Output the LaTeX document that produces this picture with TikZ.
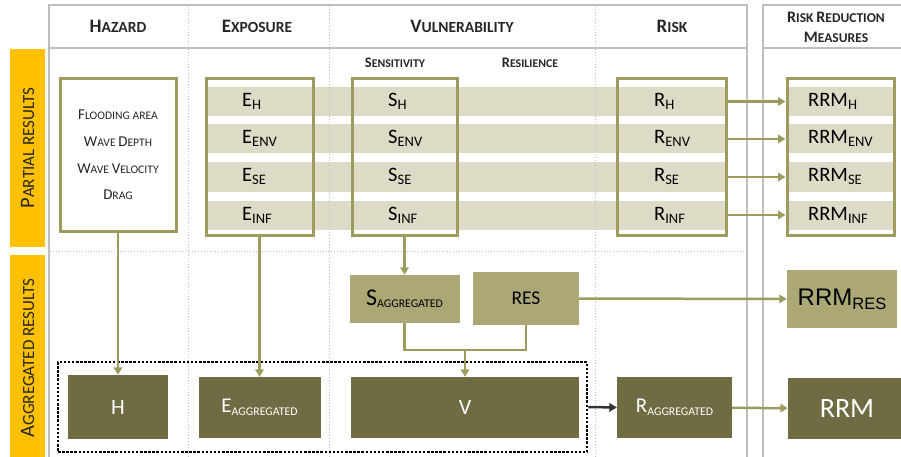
\documentclass[tikz,border=0pt]{standalone}
\usepackage{fontspec}
\setmainfont{Carlito}
\newfontfamily\arialfont{Liberation Sans}
\usetikzlibrary{arrows.meta}

\definecolor{bandcol}{HTML}{DDDBC6}
\definecolor{olivecol}{HTML}{9E9B5E}
\definecolor{lightcol}{HTML}{ABA876}
\definecolor{darkcol}{HTML}{6F6B42}
\definecolor{barcol}{HTML}{FFC000}
\definecolor{framecol}{HTML}{BFBFBF}
\definecolor{textcol}{HTML}{262626}

% fake small caps: big size, small size, first letter, rest
\newcommand{\fsc}[4]{{\fontsize{#1}{#1}\selectfont #3\fontsize{#2}{#2}\selectfont #4}}
\newcommand{\lsub}[1]{\raisebox{-3pt}{\fontsize{14.5}{15}\selectfont #1}}
\newcommand{\aggsub}[1]{\raisebox{-#1}{\fontsize{11.8}{12}\selectfont AGGREGATED}}

\tikzset{
  frameline/.style={draw=framecol, line width=1.5pt},
  sepline/.style={draw=framecol, line width=0.9pt, dotted},
  resbar/.style={fill=barcol, rotate=90, minimum height=35pt, inner sep=0pt, text=textcol},
  headtext/.style={text=textcol, font=\bfseries, inner sep=0pt},
  outbox/.style={draw=olivecol, line width=3pt, minimum height=156pt, inner sep=0pt},
  lbl/.style={anchor=base west, inner sep=0pt, text=black, font=\fontsize{20.5}{22}\selectfont},
  darkbox/.style={fill=darkcol, text=white, minimum height=61pt, inner sep=0pt},
  lightbox/.style={fill=lightcol, text=black, inner sep=0pt},
  conn/.style={draw=olivecol, line width=2.5pt},
  arr/.style={conn, -{Triangle[length=7.5pt,width=8.5pt]}},
  aggframe/.style={draw=black, line width=2.5pt, dash pattern=on 2.5pt off 1.6pt,
    minimum width=529pt, minimum height=90pt, inner sep=0pt},
}

\begin{document}
\begin{tikzpicture}[x=1pt, y=-1pt]
        \clip (0,0) rectangle (901,457);

        % Draw the light bands behind the partial results
        \foreach \i/\y in {1/101.5, 2/139, 3/177, 4/215} {
            \fill[bandcol] (207,\y-14.5) rectangle (726,\y+14.5);
            \fill[bandcol] (787,\y-14.5) rectangle (894,\y+14.5);
            \coordinate (row\i) at (0,\y);
        }

        % Draw the frames and the column separators
        \draw[frameline] (49,460) -- (49,5) -- (747,5) -- (747,460);
        \draw[frameline] (49,48) -- (747,48);
        \draw[frameline] (763,460) -- (763,5) -- (905,5);
        \draw[frameline] (763,48) -- (905,48);
        \foreach \x in {188, 329, 595}
            \draw[sepline] (\x,6) -- (\x,457);
        \draw[sepline] (50,251) -- (746,251);

        % Column headers
        \node[headtext] (hhaz)  at (118,26) {\fsc{19}{15.5}{H}{AZARD}};
        \node[headtext] (hexp)  at (257,26) {\fsc{19}{15.5}{E}{XPOSURE}};
        \node[headtext] (hvul)  at (462,26) {\fsc{19}{15.5}{V}{ULNERABILITY}};
        \node[headtext] (hrisk) at (672,26) {\fsc{19}{15.5}{R}{ISK}};
        \node[headtext, align=center, font=\bfseries\fontsize{13}{20}\selectfont] (hrrm) at (836,27)
            {\fsc{16}{13.5}{R}{ISK} \fsc{16}{13.5}{R}{EDUCTION}\\\fsc{16}{13.5}{M}{EASURES}};
        \node[headtext] (hsens) at (395,63) {\fsc{14.5}{11.8}{S}{ENSITIVITY}};
        \node[headtext] (hres)  at (530,63) {\fsc{14.5}{11.8}{R}{ESILIENCE}};

        % Row bars on the left
        \node[resbar, minimum width=198pt] (barpart) at (27.5,148) {\fsc{20.5}{17}{P}{ARTIAL RESULTS}};
        \node[resbar, minimum width=206pt] (baragg) at (27.5,358) {\fsc{20.5}{17}{A}{GGREGATED RESULTS}};

        % Boxes of the partial results
        \node[outbox, minimum width=116pt, minimum height=152pt, align=center,
              font=\fontsize{11.6}{26.7}\selectfont, text=textcol] (hazbox) at (118,155)
            {\fsc{15}{11.6}{F}{LOODING AREA}\\\fsc{15}{11.6}{W}{AVE} \fsc{15}{11.6}{D}{EPTH}\\
             \fsc{15}{11.6}{W}{AVE} \fsc{15}{11.6}{V}{ELOCITY}\\\fsc{15}{11.6}{D}{RAG}};
        \node[outbox, minimum width=107pt] (ebox)   at (259.5,157) {};
        \node[outbox, minimum width=105pt] (sbox)   at (404.5,157) {};
        \node[outbox, minimum width=109pt] (rbox)   at (671.5,157) {};
        \node[outbox, minimum width=107pt] (rrmbox) at (840.5,157) {};

        % Labels in the bands
        \foreach \i/\y/\s in {1/101.5/H, 2/139/ENV, 3/177/SE, 4/215/INF} {
            \node[lbl] (e\i) at (242,\y+5) {E\lsub{\s}};
            \node[lbl] (s\i) at (388,\y+5) {S\lsub{\s}};
            \node[lbl] (r\i) at (654,\y+5) {R\lsub{\s}};
            \node[lbl] (m\i) at (808,\y+5) {RRM\lsub{\s}};
        }

        % Arrows from risk to risk reduction measures
        \foreach \i in {1,...,4}
            \draw[arr] (rbox.east |- row\i) -- (rrmbox.west |- row\i);

        % Aggregated results
        \node[aggframe] (aggbox) at (322.5,407) {};
        \node[darkbox, minimum width=100pt, minimum height=64pt, font=\fontsize{22}{24}\selectfont] (hbox) at (118,407) {H};
        \node[darkbox, minimum width=122pt, font=\fontsize{21}{22}\selectfont] (eagg) at (259.5,407.5) {E\aggsub{3pt}};
        \node[darkbox, minimum width=228pt, font=\fontsize{22}{24}\selectfont] (vbox) at (465,407.5) {V};
        \node[darkbox, minimum width=115pt, font=\fontsize{21}{22}\selectfont] (ragg) at (674.5,407.5) {R\aggsub{3pt}};
        \node[darkbox, minimum width=118pt, font=\fontsize{28}{29}\selectfont] (rrm) at (847,408.5) {RRM};
        \node[lightbox, minimum width=110pt, minimum height=48pt, font=\fontsize{24}{24}\selectfont] (sagg) at (404.5,299) {S\aggsub{2pt}};
        \node[lightbox, minimum width=106pt, minimum height=53pt, font=\fontsize{19.5}{20}\selectfont] (res) at (526,298.5) {RES};
        \node[lightbox, minimum width=110pt, minimum height=58pt, font=\arialfont\fontsize{24}{24}\selectfont] (rrmres) at (842,299)
            {RRM\raisebox{-4pt}{\fontsize{16.5}{17}\selectfont RES}};

        % Connectors between the results
        \coordinate (join) at (465,350);
        \draw[arr] (hazbox.south) -- (hbox.north);
        \draw[arr] (ebox.south) -- (eagg.north);
        \draw[arr] (sbox.south) -- (sagg.north);
        \draw[conn] (sagg.south) |- (join);
        \draw[conn] (res.south) |- (join);
        \draw[arr] (join) -- (vbox.north);
        \draw[arr] (res) -- (rrmres);
        \draw[arr, draw=black!80] (aggbox.east) -- (ragg.west);
        \draw[arr] (ragg) -- (rrm);

    \end{tikzpicture}
\end{document}
